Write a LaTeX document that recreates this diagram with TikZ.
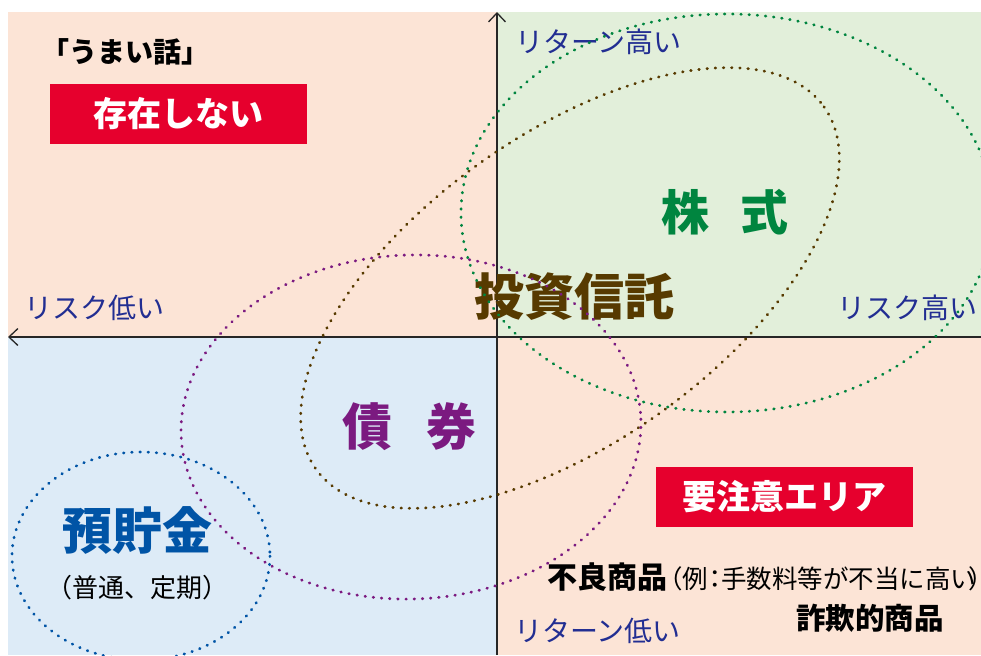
\documentclass[tikz,border=0pt]{standalone}
\usepackage{fontspec}
\setmainfont{Noto Sans CJK JP}
\usepackage{xcolor}
\usepackage{tikz}
\definecolor{bgpeach}{HTML}{FCE4D6}
\definecolor{bggreen}{HTML}{E2EFDA}
\definecolor{bgblue}{HTML}{DDEBF7}
\definecolor{alertred}{HTML}{E6002D}
\definecolor{axisnavy}{HTML}{222E92}
\definecolor{stockgreen}{HTML}{00853F}
\definecolor{fundbrown}{HTML}{573A00}
\definecolor{bondpurple}{HTML}{7B1A80}
\definecolor{depositblue}{HTML}{0054A6}
\usetikzlibrary{arrows, arrows.meta, positioning, calc}

\begin{document}
\begin{tikzpicture}[x=1pt, y=-1pt,
  axis/.style={line width=1.3pt, black!85, -{Straight Barb[length=9pt, width=17pt]}},
  dotring/.style={line width=2.8pt, line cap=round, dash pattern=on 0.6pt off 7.6pt},
  axistext/.style={text=axisnavy, inner sep=0pt, font=\fontsize{28}{30}\selectfont},
  alertbox/.style={fill=alertred, text=white, inner sep=0pt, minimum width=257pt, minimum height=60pt, font=\bfseries\fontsize{34}{36}\selectfont},
  bigword/.style={inner sep=0pt, font=\bfseries\fontsize{50}{52}\selectfont}]
\useasboundingbox (0,0) rectangle (981,655);
\clip (0,0) rectangle (981,655);
% Draw the four quadrants
\foreach \col/\xa/\ya/\xb/\yb in {bgpeach/8/12/497/337, bggreen/497/12/981/337, bgblue/8/337/497/655, bgpeach/497/337/981/655} {
    \fill[\col] (\xa,\ya) rectangle (\xb,\yb);
}
% Draw the axes
\coordinate (ytop) at (497,12);
\coordinate (ybot) at (497,655);
\coordinate (xleft) at (8,337);
\coordinate (xright) at (981,337);
\draw[axis] (ybot) -- (ytop);
\draw[axis] (xright) -- (xleft);
\node[axistext, anchor=west] (rethigh) at (515,42) {リターン高い};
\node[axistext, anchor=west] (retlow) at (514,631) {リターン低い};
\node[axistext, anchor=west] (risklow) at (24,308) {リスク低い};
\node[axistext, anchor=east] (riskhigh) at (978,308) {リスク高い};
% Draw the labels
\node[font=\bfseries\fontsize{28}{30}\selectfont, inner sep=0pt] (tale) at (125,52) {「うまい話」};
\node[alertbox] (nothere) at (178.5,114) {存在しない};
\node[alertbox] (caution) at (784,496.5) {要注意エリア};
\node[bigword, text=stockgreen, font=\bfseries\fontsize{48}{50}\selectfont] (stock) at (725,212) {株\hspace{31pt}式};
\node[bigword, text=fundbrown] (fund) at (574,297) {投資信託};
\node[bigword, text=bondpurple] (bond) at (409,427) {債\hspace{34pt}券};
\node[bigword, text=depositblue] (deposit) at (137,530) {預貯金};
\node[inner sep=0pt, font=\fontsize{26}{28}\selectfont] (depositnote) at (137,588) {（普通、定期）};
\node[inner sep=0pt, font=\bfseries\fontsize{30}{32}\selectfont] (badgoods) at (607,577) {不良商品};
\node[inner sep=0pt, anchor=base west, font=\fontsize{25.5}{28}\selectfont] (badnote) at ($(badgoods.base east)+(-10,0)$) {（例\kern-.25em：\kern-.25em手数料等が不当に高い\kern-.3em）\kern-.5em};
\node[inner sep=0pt, font=\bfseries\fontsize{29.5}{31}\selectfont] (fraud) at (870,618) {詐欺的商品};
% Draw the dotted rings
\draw[dotring, stockgreen] (727,213) ellipse [x radius=266, y radius=199];
\draw[dotring, fundbrown, rotate around={35.5:(570,288)}] (570,288) ellipse [x radius=312, y radius=154];
\draw[dotring, bondpurple, rotate around={2:(411,427)}] (411,427) ellipse [x radius=230, y radius=172];
\draw[dotring, depositblue] (141,556) ellipse [x radius=129, y radius=104];
\end{tikzpicture}
\end{document}
